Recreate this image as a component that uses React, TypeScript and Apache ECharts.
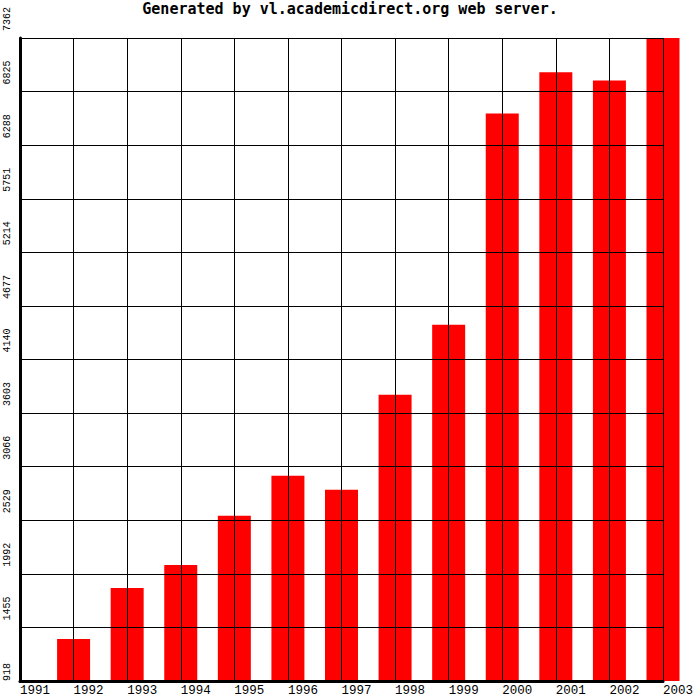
import React, { useEffect, useRef } from "react";
import * as echarts from "echarts";

const TITLE = "Generated by vl.academicdirect.org web server.";
const years = ["1991", "1992", "1993", "1994", "1995", "1996", "1997", "1998", "1999", "2000", "2001", "2002", "2003"];
const values = [918, 1339, 1851, 2081, 2573, 2974, 2834, 3787, 4489, 6605, 7019, 6936, 7362];
const yMin = 918;
const yMax = 7362;
const yStep = 537;

export default function App() {
  const ref = useRef<HTMLDivElement>(null);
  useEffect(() => {
    if (!ref.current) return;
    const chart = echarts.init(ref.current, null, { renderer: "svg" });
    const mono = "DejaVu Sans Mono";
    const thin = "Liberation Mono";
    chart.setOption({
      animation: false,
      backgroundColor: "#ffffff",
      title: {
        text: TITLE,
        left: "center",
        top: 1,
        padding: 0,
        textStyle: { fontFamily: mono, fontWeight: "bold", fontSize: 15, color: "#000" },
      },
      grid: { left: 20, right: 37, top: 38, bottom: 19, containLabel: false },
      xAxis: {
        type: "category",
        data: years,
        boundaryGap: false,
        z: 3,
        axisLine: { show: true, onZero: false, lineStyle: { color: "#000", width: 3 } },
        axisTick: { show: false },
        axisLabel: {
          interval: 0,
          align: "left",
          margin: 3,
          fontFamily: thin,
          fontSize: 12.5,
          color: "#000",
        },
        splitLine: { show: true, lineStyle: { color: "#000", width: 1 } },
      },
      yAxis: {
        type: "value",
        min: yMin,
        max: yMax,
        interval: yStep,
        z: 3,
        axisLine: { show: true, lineStyle: { color: "#000", width: 3 } },
        axisTick: { show: false },
        axisLabel: {
          rotate: 90,
          align: "left",
          margin: 8,
          fontFamily: thin,
          fontSize: 10,
          color: "#000",
          formatter: (v: number) => (v === yMin ? `{s|${v}}` : `{n|${v}}`),
          rich: {
            n: { padding: [0, 0, 0, 7], fontFamily: thin, fontSize: 10, color: "#000" },
            s: { padding: [0, 0, 0, 0], fontFamily: thin, fontSize: 10, color: "#000" },
          },
        },
        splitLine: { show: true, lineStyle: { color: "#000", width: 1 } },
      },
      series: [
        {
          type: "bar",
          data: values,
          barWidth: 33,
          barMinHeight: 2,
          itemStyle: { color: "#ff0000" },
        },
      ],
    });
    return () => chart.dispose();
  }, []);
  return (
    <div
      ref={ref}
      style={{ position: "fixed", left: 0, top: 0, width: 700, height: 700, background: "#fff" }}
    />
  );
}
